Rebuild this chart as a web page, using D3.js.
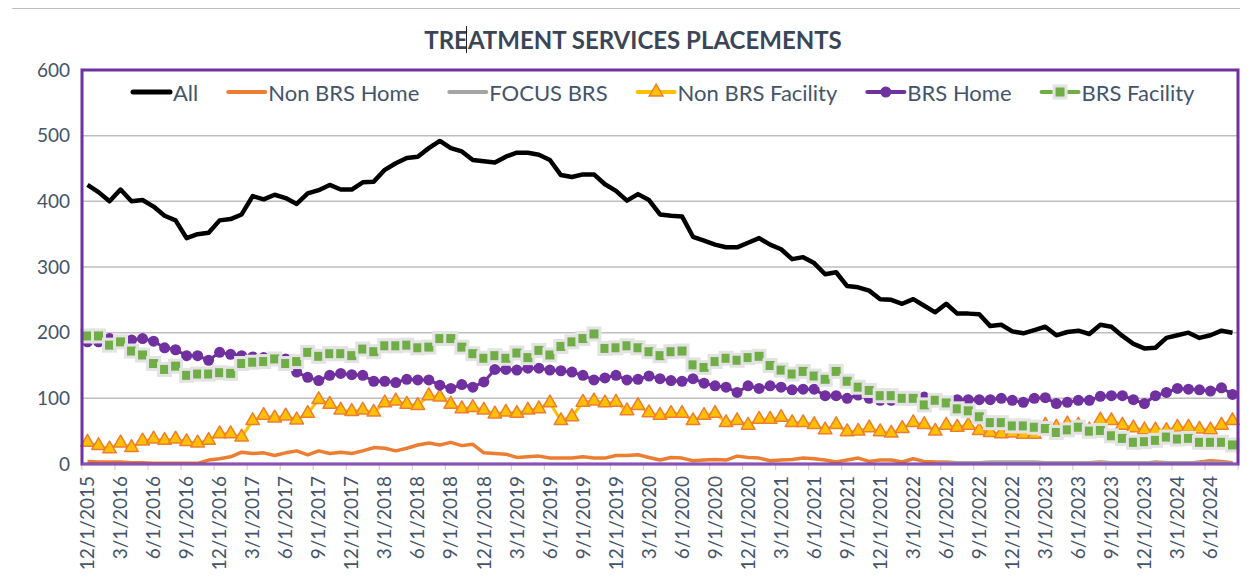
<!DOCTYPE html>
<html><head><meta charset="utf-8">
<script src="https://cdn.jsdelivr.net/npm/d3@7"></script>
<style>body{margin:0;background:#fff} svg{display:block}</style>
</head><body><svg id="c" width="1252" height="579"></svg>
<script>
// ---- data ----
const startMonth = new Date(2015, 11, 1);
const months = d3.timeMonth.range(startMonth, new Date(2024, 8, 1)); // 12/2015 .. 8/2024
const tickLabels = ["12/1/2015","3/1/2016","6/1/2016","9/1/2016","12/1/2016","3/1/2017","6/1/2017","9/1/2017","12/1/2017","3/1/2018","6/1/2018","9/1/2018","12/1/2018","3/1/2019","6/1/2019","9/1/2019","12/1/2019","3/1/2020","6/1/2020","9/1/2020","12/1/2020","3/1/2021","6/1/2021","9/1/2021","12/1/2021","3/1/2022","6/1/2022","9/1/2022","12/1/2022","3/1/2023","6/1/2023","9/1/2023","12/1/2023","3/1/2024","6/1/2024"];
const yTicks = [0,100,200,300,400,500,600];

const allVals = [425,414,400,418,400,402,392,378,371,344,350,352,371,373,380,408,403,410,405,396,412,417,425,418,418,429,430,448,458,466,468,481,492,481,476,463,461,459,468,474,474,471,463,440,437,441,441,426,416,401,411,402,380,378,377,346,340,334,330,330,337,344,334,327,312,315,306,289,292,271,269,264,251,250,244,251,241,231,244,229,229,228,210,212,202,199,204,209,196,201,203,198,212,209,195,183,176,177,192,196,200,192,196,203,200];
const nonBrsHome = [4,3,3,3,2,2,1,1,1,1,1,6,8,11,18,16,17,13,17,20,14,20,16,18,16,20,25,24,20,24,29,32,29,33,28,30,17,16,15,10,11,12,9,9,9,11,9,9,13,13,14,10,6,10,9,5,6,7,6,12,10,9,5,6,7,9,8,6,3,6,9,4,6,6,3,8,4,3,3,2,2,1,1,1,1,1,1,1,1,1,1,2,3,2,1,1,1,3,2,1,1,3,5,4,2];
const focusBrs = [null,null,null,null,null,null,null,null,null,null,null,null,null,null,null,null,null,null,null,null,null,null,null,null,null,null,null,null,null,null,null,null,null,null,null,null,null,null,null,null,null,null,null,null,null,null,null,null,null,null,null,null,null,null,null,null,null,null,null,null,null,null,null,null,null,null,null,null,null,null,null,null,null,null,null,null,null,1,1,2,2,2,3,3,3,3,3,2,2,2,2,2,2,2,2,2,2,2,2,2,2,2,2,2,1];
const nonBrsFac = [33,28,23,32,25,35,38,36,38,34,32,36,46,46,41,66,74,70,73,67,77,98,91,82,80,82,79,93,96,91,89,104,102,91,84,86,82,76,79,77,82,84,93,66,72,94,96,93,94,81,89,78,74,77,77,66,74,77,63,66,59,68,68,71,63,63,60,52,60,49,50,55,49,47,54,63,60,50,59,56,59,51,48,46,47,45,45,59,56,61,59,52,67,66,59,55,52,52,51,56,56,53,52,59,66];
const brsHome = [186,186,191,188,189,191,187,177,174,165,165,158,170,167,165,163,162,162,160,140,132,127,135,138,136,135,126,126,124,129,128,128,120,115,121,117,125,144,144,143,146,146,143,142,140,135,128,131,135,128,129,134,130,127,126,130,123,119,117,109,119,115,119,117,113,114,114,104,104,100,105,100,97,97,99,100,102,99,95,98,98,98,98,100,97,94,100,101,92,94,97,97,103,104,104,98,92,104,109,115,114,113,111,116,106];
const brsFac = [195,195,181,186,172,166,153,144,149,135,137,137,139,138,153,155,156,160,153,156,170,164,168,168,165,175,171,180,180,181,177,178,191,191,178,168,161,165,161,169,162,173,166,179,186,191,198,176,177,180,177,171,165,171,172,151,147,156,161,158,162,164,150,143,137,141,134,129,141,126,117,112,104,104,100,100,90,97,93,84,81,72,63,63,58,58,56,54,48,52,56,50,51,43,39,33,34,36,41,38,39,33,33,33,29];

const seriesNames = ["All","Non BRS Home","FOCUS BRS","Non BRS Facility","BRS Home","BRS Facility"];

// ---- layout ----
const svg = d3.select("#c");
const W = 1252, H = 579;
const L = 82, R = 1238, T = 70, B = 464;
const txt = "#44546A";
const FONT = "Lato, 'Open Sans', sans-serif";

const idx = d3.range(months.length);
const x = d3.scaleBand().domain(idx).range([L, R]).padding(0);
const bw = x.bandwidth();
const cx = i => x(i) + bw / 2;
const y = d3.scaleLinear().domain([0, 600]).range([B, T]);

// top rule
svg.append("line").attr("x1", 12).attr("x2", 1240).attr("y1", 8.5).attr("y2", 8.5)
  .attr("stroke", "#BFBFBF").attr("stroke-width", 1);

// title
svg.append("text").attr("x", 633).attr("y", 39).attr("text-anchor", "middle")
  .attr("dominant-baseline", "central")
  .attr("font-family", FONT).attr("font-weight", "bold").attr("font-size", 24)
  .attr("fill", "#3A4657").text("TREATMENT SERVICES PLACEMENTS");
// text cursor artifact
svg.append("line").attr("x1", 466.5).attr("x2", 466.5).attr("y1", 26).attr("y2", 53)
  .attr("stroke", "#222").attr("stroke-width", 1);

// gridlines
svg.append("g").selectAll("line").data(yTicks.filter(v => v > 0 && v < 600)).join("line")
  .attr("x1", L).attr("x2", R).attr("y1", d => y(d)).attr("y2", d => y(d))
  .attr("stroke", "#BFBFBF").attr("stroke-width", 1.5);

// y axis labels
const yAxis = d3.axisLeft(y).tickValues(yTicks).tickSize(0).tickPadding(12);
const gy = svg.append("g").attr("transform", `translate(${L},0)`).call(yAxis);
gy.select(".domain").remove();
gy.selectAll("text").attr("font-family", FONT).attr("font-size", 19).attr("fill", txt);

// x axis
const tickIdx = idx.filter(i => i % 3 === 0);
const xAxis = d3.axisBottom(x).tickValues(tickIdx).tickSize(0)
  .tickFormat(i => tickLabels[i / 3]);
const gx = svg.append("g").attr("transform", `translate(0,${B})`).call(xAxis);
gx.select(".domain").remove();
gx.selectAll("text")
  .attr("font-family", FONT).attr("font-size", 19).attr("fill", txt)
  .attr("transform", "rotate(-90)")
  .attr("text-anchor", "end").attr("dy", "0.35em")
  .attr("x", -12).attr("y", 0);
// tick marks at slot boundaries
const tickPos = tickIdx.map(i => x(i)).concat([R]);
svg.append("g").selectAll("line").data(tickPos).join("line")
  .attr("x1", d => d).attr("x2", d => d).attr("y1", B).attr("y2", B + 6)
  .attr("stroke", "#D0D0D0").attr("stroke-width", 1.2);

// ---- series ----
function lineGen(arr) {
  return d3.line().defined(i => arr[i] != null).x(i => cx(i)).y(i => y(arr[i]));
}
const plot = svg.append("g");
plot.append("path").datum(idx).attr("d", lineGen(allVals)).attr("fill", "none")
  .attr("stroke", "#000").attr("stroke-width", 4.5).attr("stroke-linejoin", "round");
plot.append("path").datum(idx).attr("d", lineGen(nonBrsHome)).attr("fill", "none")
  .attr("stroke", "#ED7D31").attr("stroke-width", 3.5).attr("stroke-linejoin", "round");
plot.append("path").datum(idx).attr("d", lineGen(focusBrs)).attr("fill", "none")
  .attr("stroke", "#A5A5A5").attr("stroke-width", 3.5).attr("stroke-linejoin", "round");

// Non BRS Facility
plot.append("path").datum(idx).attr("d", lineGen(nonBrsFac)).attr("fill", "none")
  .attr("stroke", "#FFC000").attr("stroke-width", 3).attr("stroke-linejoin", "round");
const tri = d3.symbol().type(d3.symbolTriangle).size(80);
plot.append("g").selectAll("path").data(idx).join("path")
  .attr("transform", i => `translate(${cx(i)},${y(nonBrsFac[i])})`)
  .attr("d", tri).attr("fill", "#FFC000").attr("stroke", "#ED7D31").attr("stroke-width", 1.5)
  .attr("stroke-linejoin", "round");

// BRS Home
plot.append("path").datum(idx).attr("d", lineGen(brsHome)).attr("fill", "none")
  .attr("stroke", "#7030A0").attr("stroke-width", 3).attr("stroke-linejoin", "round");
plot.append("g").selectAll("circle").data(idx).join("circle")
  .attr("cx", i => cx(i)).attr("cy", i => y(brsHome[i])).attr("r", 5.5)
  .attr("fill", "#7030A0");

// BRS Facility
plot.append("path").datum(idx).attr("d", lineGen(brsFac)).attr("fill", "none")
  .attr("stroke", "#70AD47").attr("stroke-width", 3).attr("stroke-linejoin", "round");
plot.append("g").selectAll("rect").data(idx).join("rect")
  .attr("x", i => cx(i) - 6).attr("y", i => y(brsFac[i]) - 6)
  .attr("width", 12).attr("height", 12)
  .attr("fill", "#70AD47").attr("stroke", "#E3E3E3").attr("stroke-width", 3);

// plot border
svg.append("rect").attr("x", L).attr("y", T).attr("width", R - L).attr("height", B - T)
  .attr("fill", "none").attr("stroke", "#7030A0").attr("stroke-width", 3);
svg.append("line").attr("x1", L).attr("x2", R).attr("y1", B).attr("y2", B)
  .attr("stroke", "#8E5CC0").attr("stroke-width", 1.5);

// ---- legend ----
const legend = svg.append("g");
let lx = 133;
const ly = 92;
seriesNames.forEach((name, k) => {
  const g = legend.append("g");
  const color = ["#000", "#ED7D31", "#A5A5A5", "#FFC000", "#7030A0", "#70AD47"][k];
  g.append("line").attr("x1", lx).attr("x2", lx + 37).attr("y1", ly).attr("y2", ly)
    .attr("stroke", color).attr("stroke-width", k === 0 ? 5 : 4).attr("stroke-linecap", "round");
  const mx = lx + 18.5;
  if (k === 3) g.append("path").attr("transform", `translate(${mx},${ly})`).attr("d", tri)
    .attr("fill", "#FFC000").attr("stroke", "#ED7D31").attr("stroke-width", 1.5);
  if (k === 4) g.append("circle").attr("cx", mx).attr("cy", ly).attr("r", 5.5).attr("fill", "#7030A0");
  if (k === 5) g.append("rect").attr("x", mx - 6).attr("y", ly - 6).attr("width", 12).attr("height", 12)
    .attr("fill", "#70AD47").attr("stroke", "#E3E3E3").attr("stroke-width", 3);
  const t = g.append("text").attr("x", lx + 40).attr("y", ly).attr("dominant-baseline", "central")
    .attr("font-family", FONT).attr("font-size", 22).attr("fill", txt).text(name);
  lx += 40 + t.node().getComputedTextLength() + 30;
});
</script></body></html>
